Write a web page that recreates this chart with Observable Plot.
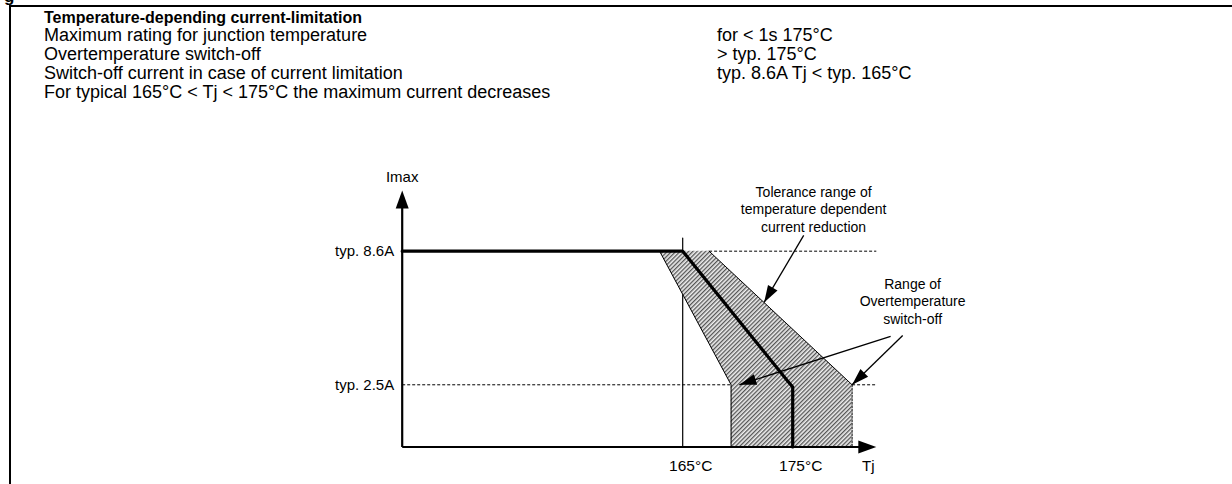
<!DOCTYPE html>
<html><head><meta charset="utf-8">
<script src="https://cdn.jsdelivr.net/npm/d3@7"></script>
<script src="https://cdn.jsdelivr.net/npm/@observablehq/plot@0.6"></script>
<style>
html,body{margin:0;padding:0;background:#fff;width:1232px;height:484px;overflow:hidden;
  font-family:"Liberation Sans",Arial,Helvetica,sans-serif;color:#000;}
#cut{position:absolute;left:4px;top:-12px;font-size:17px;line-height:17px;font-weight:bold;}
#frame{position:absolute;left:9px;top:5px;right:-4px;bottom:-4px;border-top:2px solid #000;border-left:2px solid #000;}
.row{position:absolute;left:44px;font-size:18px;line-height:20px;white-space:nowrap;}
.row.title{font-weight:bold;font-size:16px;}
.val{position:absolute;left:717px;font-size:18px;line-height:20px;white-space:nowrap;}
#chart{position:absolute;left:0;top:150px;}
</style></head>
<body>
<div id="cut">g</div>
<div id="frame"></div>
<div id="textblock"></div>
<div id="chart"></div>
<script>
// ---------- text block ----------
const title = "Temperature-depending current-limitation";
const ratingNames = ["Maximum rating for junction temperature", "Overtemperature switch-off", "Switch-off current in case of current limitation"];
const ratingValues = ["for < 1s 175°C", "> typ. 175°C", "typ. 8.6A Tj < typ. 165°C"];
const footnote = "For typical 165°C < Tj < 175°C the maximum current decreases";

// ---------- chart data ----------
const axisT = [139.5, 182.6];          // Tj axis extent (°C, schematic)
const axisI = [-0.34, 11.37];          // Imax axis extent (A, schematic)
const tickTemps = [165, 175];
const tickTempLabels = ["165°C", "175°C"];
const levelCurrents = [8.6, 2.5];
const levelLabels = ["typ. 8.6A", "typ. 2.5A"];
// nominal (typical) current limit curve
const nominalT = [139.5, 165, 174.5, 175, 175];
const nominalI = [8.6, 8.6, 2.7, 2.4, -0.34];
// tolerance band
const bandI = [8.6, 2.5, -0.34];
const bandTlow = [162.9, 169.4, 169.4];
const bandThigh = [167.4, 180.4, 180.4];
// 165°C marker line
const markT = [165, 165];
const markI = [9.2, -0.34];
// annotations
const annoText = ["Tolerance range of\ntemperature dependent\ncurrent reduction", "Range of\nOvertemperature\nswitch-off"];
const annoT = [176.9, 185.9];
const annoI = [10.55, 6.35];
const arrowFromT = [176.0, 183.9, 185.0];
const arrowFromI = [9.32, 4.71, 4.75];
const arrowToT = [172.4, 170.15, 180.4];
const arrowToI = [6.26, 2.5, 2.5];

// build text block
const tb = document.getElementById("textblock");
function addRow(cls, txt, i){ const d=document.createElement("div"); d.className=cls;
  d.style.top=(i===0 ? 8 : 25+19*(i-1))+"px"; d.textContent=txt; tb.appendChild(d); }
addRow("row title", title, 0);
ratingNames.forEach((t,i)=>addRow("row", t, i+1));
ratingValues.forEach((t,i)=>addRow("val", t, i+1));
addRow("row", footnote, 4);

// scales
const xDomain = axisT, xRange = [401.7, 875.8];
const yDomain = axisI, yRange = [296.5, 40];
const sx = d3.scaleLinear(xDomain, xRange), sy = d3.scaleLinear(yDomain, yRange);
function angle(t1,i1,t2,i2){ const dx=sx(t2)-sx(t1), dy=sy(i2)-sy(i1); return Math.atan2(dx,-dy)*180/Math.PI; }

const headBig = {draw(ctx){ ctx.moveTo(0,0); ctx.lineTo(6.5,18); ctx.lineTo(-6.5,18); ctx.closePath(); }};
const headSmall = {draw(ctx){ ctx.moveTo(0,0); ctx.lineTo(5.5,17); ctx.lineTo(-5.5,17); ctx.closePath(); }};

const band = bandI.map((I,i)=>({I, lo:bandTlow[i], hi:bandThigh[i]}));
const nominal = nominalT.map((T,i)=>({T, I:nominalI[i]}));
const arrows = arrowFromT.map((t,i)=>({t1:t, i1:arrowFromI[i], t2:arrowToT[i], i2:arrowToI[i], a:angle(t, arrowFromI[i], arrowToT[i], arrowToI[i])}));
const axisHeads = [{T:axisT[0], I:axisI[1], a:0},{T:axisT[1], I:axisI[0], a:90}];

const plot = Plot.plot({
  width: 1232, height: 334, margin: 0,
  style: {fontFamily: '"Liberation Sans", Arial, sans-serif', fontSize: "15px", background: "transparent", overflow: "visible", color: "#000"},
  x: {domain: xDomain, range: xRange, axis: null},
  y: {domain: yDomain, range: yRange, axis: null},
  marks: [
    // 165 marker
    Plot.line(markT.map((T,i)=>({T, I:markI[i]})), {x:"T", y:"I", stroke:"#000", strokeWidth:1.2}),
    // dashed level lines
    Plot.link([
      {t1:bandThigh[0], t2:axisT[1], I:levelCurrents[0]},
      {t1:axisT[0], t2:bandTlow[1], I:levelCurrents[1]},
      {t1:bandThigh[1], t2:axisT[1], I:levelCurrents[1]}
    ], {x1:"t1", x2:"t2", y1:"I", y2:"I", stroke:"#000", strokeWidth:1, strokeDasharray:"3,2"}),
    // tolerance band
    Plot.areaX(band, {y:"I", x1:"lo", x2:"hi", fill:"url(#hatch)", curve:"linear"}),
    Plot.line(band, {x:"lo", y:"I", stroke:"#000", strokeWidth:1}),
    Plot.line(band.slice(0,2), {x:"hi", y:"I", stroke:"#000", strokeWidth:1}),
    Plot.line(band.slice(1), {x:"hi", y:"I", stroke:"#000", strokeWidth:1, strokeDasharray:"2,1.5"}),
    // nominal curve
    Plot.line(nominal, {x:"T", y:"I", stroke:"#000", strokeWidth:3.2, strokeLinejoin:"miter"}),
    // axes
    Plot.link([{t1:axisT[0], i1:axisI[0], t2:axisT[0], i2:axisI[1]-0.3},{t1:axisT[0], i1:axisI[0], t2:axisT[1]-0.5, i2:axisI[0]}],
      {x1:"t1", y1:"i1", x2:"t2", y2:"i2", stroke:"#000", strokeWidth:2.2}),
    Plot.dot(axisHeads, {x:"T", y:"I", rotate:"a", symbol: headBig, fill:"#000", stroke:"none"}),
    // annotation arrows
    Plot.link(arrows, {x1:"t1", y1:"i1", x2:"t2", y2:"i2", stroke:"#000", strokeWidth:1.3}),
    Plot.dot(arrows, {x:"t2", y:"i2", rotate:"a", symbol: headSmall, fill:"#000", stroke:"none"}),
    // labels
    Plot.text(["Imax"], {x: axisT[0], y: axisI[1], dy: -13, text: d=>d, fontSize: 15}),
    Plot.text(levelCurrents, {x: axisT[0], y: d=>d, text: (d,i)=>levelLabels[i], textAnchor:"end", dx:-8, fontSize: 15}),
    Plot.text(tickTemps, {x: d=>d, y: axisI[0], text: (d,i)=>tickTempLabels[i], dy: 19, dx: 8, fontSize: 15.5}),
    Plot.text(["Tj"], {x: axisT[1], y: axisI[0], dy: 19, dx: -8, text: d=>d, fontSize: 15}),
    Plot.text(annoText, {x: (d,i)=>annoT[i], y: (d,i)=>annoI[i], text: d=>d, lineAnchor:"middle", lineHeight: 1.25, fontSize: 14})
  ]
});
// hatch pattern
const svg = plot.tagName.toLowerCase()==="svg" ? plot : plot.querySelector("svg");
const defs = d3.select(svg).insert("defs", ":first-child");
const pat = defs.append("pattern").attr("id","hatch").attr("patternUnits","userSpaceOnUse")
  .attr("width",3).attr("height",3).attr("patternTransform","rotate(45)");
pat.append("rect").attr("width",3).attr("height",3).attr("fill","#eeeeee");
pat.append("rect").attr("width",1.3).attr("height",3).attr("fill","#555555");
document.getElementById("chart").appendChild(plot);
</script>
</body></html>
